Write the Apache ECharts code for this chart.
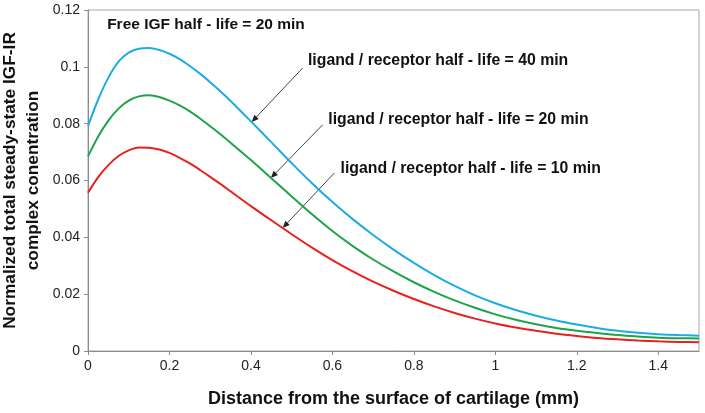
<!DOCTYPE html>
<html><head><meta charset="utf-8">
<script src="https://cdn.jsdelivr.net/npm/echarts@6/dist/echarts.min.js"></script>
<style>html,body{margin:0;padding:0;background:#fff}#c{width:705px;height:413px}</style>
</head><body><div id="c"></div>
<script>
const xs = [0,0.025,0.05,0.075,0.1,0.125,0.15,0.175,0.2,0.225,0.25,0.275,0.3,0.325,0.35,0.4,0.45,0.5,0.55,0.6,0.65,0.7,0.75,0.8,0.85,0.9,0.95,1.0,1.05,1.1,1.15,1.2,1.25,1.3,1.35,1.4,1.45,1.5];
const blue40 = [0.0792,0.0885,0.0962,0.1018,0.1050,0.1064,0.1066,0.1059,0.1046,0.1027,0.1003,0.0976,0.0946,0.0914,0.0880,0.0808,0.0735,0.0661,0.0590,0.0524,0.0464,0.0408,0.0357,0.0310,0.0267,0.0229,0.0196,0.0168,0.0144,0.0124,0.0107,0.0093,0.0081,0.0071,0.0064,0.0059,0.0056,0.0054];
const green20 = [0.0685,0.0755,0.0811,0.0853,0.0881,0.0896,0.0900,0.0894,0.0881,0.0864,0.0843,0.0818,0.0791,0.0763,0.0733,0.0672,0.0608,0.0544,0.0481,0.0422,0.0369,0.0322,0.0280,0.0242,0.0208,0.0178,0.0152,0.0129,0.0110,0.0094,0.0081,0.0071,0.0063,0.0056,0.0051,0.0047,0.0045,0.0044];
const red10 = [0.0557,0.0612,0.0654,0.0686,0.0706,0.0716,0.0715,0.0709,0.0697,0.0680,0.0660,0.0637,0.0613,0.0588,0.0562,0.0510,0.0460,0.0411,0.0364,0.0320,0.0280,0.0244,0.0212,0.0183,0.0157,0.0134,0.0114,0.0097,0.0083,0.0071,0.0061,0.0053,0.0046,0.0041,0.0037,0.0034,0.0032,0.0031];
const xTicks = ['0','0.2','0.4','0.6','0.8','1','1.2','1.4'];
const yTicks = ['0','0.02','0.04','0.06','0.08','0.1','0.12'];
const annoText = ['Free IGF half - life = 20 min','ligand / receptor half - life = 40 min','ligand / receptor half - life = 20 min','ligand / receptor half - life = 10 min'];
// annotation anchors in data coords: [x, y]
const annoPos = [[0.047,0.1148],[0.54,0.1022],[0.59,0.0815],[0.62,0.0642]];
// arrows: [tailX, tailY, headX, headY]
const arrows = [[0.527,0.0996,0.402,0.0806],[0.576,0.0796,0.449,0.0609],[0.605,0.0627,0.478,0.0433]];

const chart = echarts.init(document.getElementById('c'));
const ser = (name, data, color) => ({
  name, type:'line', data: xs.map((x,i)=>[x,data[i]]), smooth:0.3, showSymbol:false,
  lineStyle:{color, width:2}, itemStyle:{color}
});
const font = 'Liberation Sans, Arial, sans-serif';
chart.setOption({
  animation:false,
  grid:{left:88,right:6,top:10,bottom:62,containLabel:false,outerBoundsMode:'none',show:true,borderColor:'#a6a6a6',borderWidth:1},
  xAxis:{type:'value',min:0,max:1.5,interval:0.2,
    axisLine:{lineStyle:{color:'#8c8c8c'}},axisTick:{show:true,length:4,lineStyle:{color:'#8c8c8c'}},
    splitLine:{show:false},
    axisLabel:{fontSize:14,color:'#222',fontFamily:font,margin:8,showMaxLabel:false,formatter:v=>{const i=Math.round(v/0.2);return xTicks[i]!==undefined?xTicks[i]:'';}},
    name:'Distance from the surface of cartilage (mm)',nameLocation:'middle',nameGap:39,nameMoveOverlap:false,
    nameTextStyle:{fontSize:18,fontWeight:'bold',color:'#111',fontFamily:font}},
  yAxis:{type:'value',min:0,max:0.12,interval:0.02,
    axisLine:{show:true,lineStyle:{color:'#8c8c8c'}},axisTick:{show:true,length:4,lineStyle:{color:'#8c8c8c'}},
    splitLine:{show:false},
    axisLabel:{fontSize:14,color:'#222',fontFamily:font,margin:8,formatter:v=>{const i=Math.round(v/0.02);return yTicks[i]!==undefined?yTicks[i]:'';}},
    name:'Normalized total steady-state IGF-IR\ncomplex conentration',nameLocation:'middle',nameGap:43,nameMoveOverlap:false,
    nameTextStyle:{fontSize:17.3,fontWeight:'bold',color:'#111',fontFamily:font,lineHeight:23}},
  series:[ser('40',blue40,'#1cace4'),ser('20',green20,'#1fa34a'),ser('10',red10,'#e8201e')]
});
const g = [];
annoText.forEach((t,i)=>{
  const p = chart.convertToPixel({gridIndex:0},annoPos[i]);
  g.push({type:'text',x:p[0],y:p[1],style:{text:t,fontSize:i===0?15.5:15.8,fontWeight:'bold',fill:'#111',fontFamily:font,textVerticalAlign:'middle'}});
});
arrows.forEach(a=>{
  const t = chart.convertToPixel({gridIndex:0},[a[0],a[1]]);
  const h = chart.convertToPixel({gridIndex:0},[a[2],a[3]]);
  const dx=h[0]-t[0], dy=h[1]-t[1], L=Math.hypot(dx,dy), ux=dx/L, uy=dy/L;
  const s=7, w=3;
  g.push({type:'line',shape:{x1:t[0],y1:t[1],x2:h[0]-ux*s*0.8,y2:h[1]-uy*s*0.8},style:{stroke:'#444',lineWidth:1}});
  g.push({type:'polygon',shape:{points:[[h[0],h[1]],[h[0]-ux*s-uy*w,h[1]-uy*s+ux*w],[h[0]-ux*s+uy*w,h[1]-uy*s-ux*w]]},style:{fill:'#222'}});
});
chart.setOption({graphic:g});
</script></body></html>
